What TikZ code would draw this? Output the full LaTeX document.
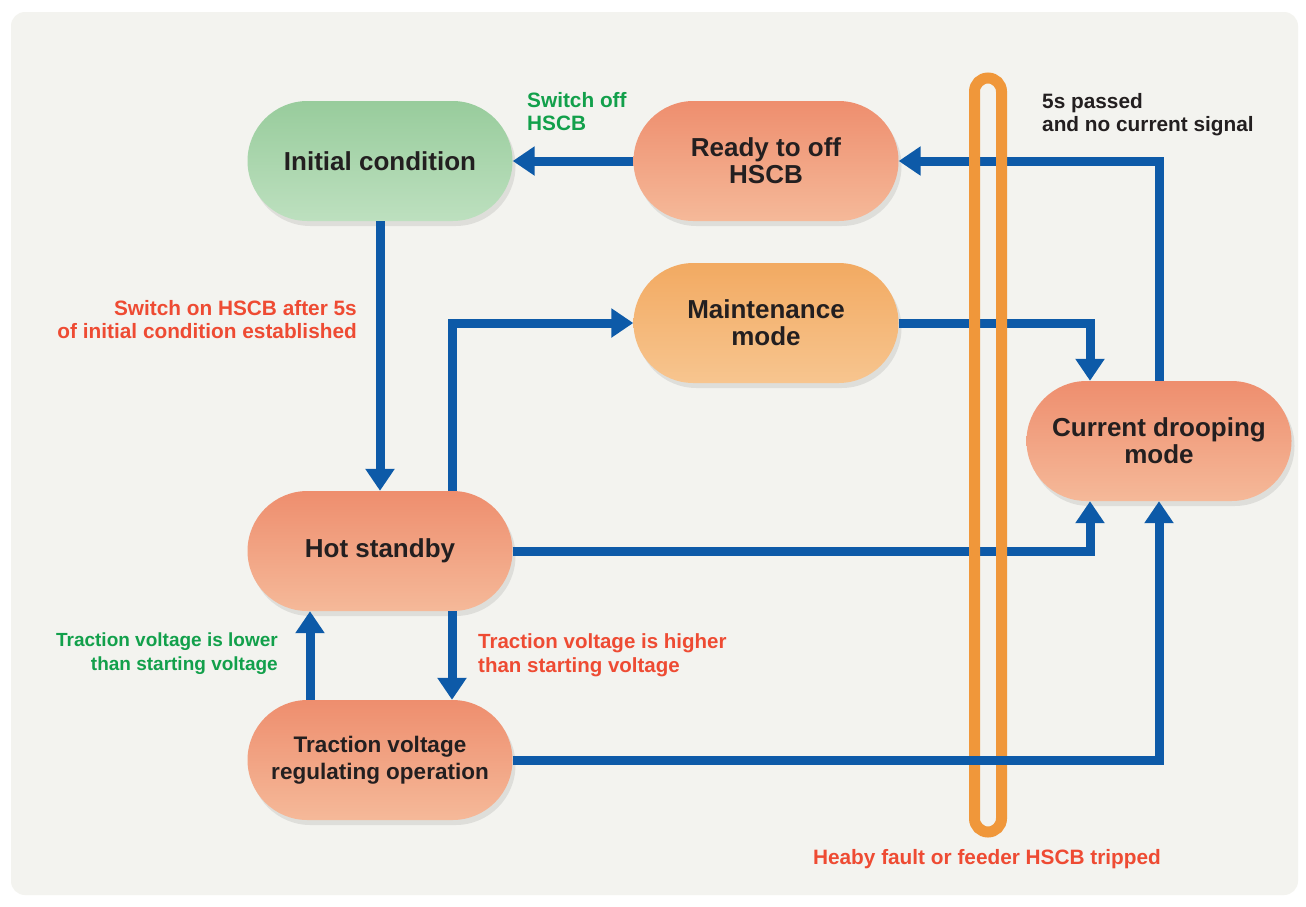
\documentclass[tikz,border=0pt]{standalone}
\usepackage{fontspec}
\setmainfont{Liberation Sans}
\usetikzlibrary{arrows.meta,positioning,shadows}

\definecolor{bggray}{HTML}{F3F3EF}
\definecolor{darktext}{HTML}{231F20}
\definecolor{greentop}{HTML}{98CC9C}
\definecolor{greenbot}{HTML}{BDE0BF}
\definecolor{salmontop}{HTML}{EE8E6E}
\definecolor{salmonbot}{HTML}{F5B999}
\definecolor{orangetop}{HTML}{F2AA62}
\definecolor{orangebot}{HTML}{F7C58F}
\definecolor{flowblue}{HTML}{0D5AA8}
\definecolor{loopor}{HTML}{F0973A}
\definecolor{okgreen}{HTML}{12A04B}
\definecolor{warnred}{HTML}{EE4B33}

\begin{document}
\begin{tikzpicture}[x=1pt, y=-1pt,
  state/.style={rectangle, rounded corners=60pt, minimum width=265pt, minimum height=120pt,
    inner sep=0pt, align=center, text=darktext, font=\bfseries\fontsize{26}{27}\selectfont,
    drop shadow={opacity=0.18, shadow xshift=3pt, shadow yshift=-5pt}},
  salmon/.style={state, top color=salmontop, bottom color=salmonbot},
  flow/.style={draw=flowblue, line width=9pt, -{Triangle[width=28pt,length=22pt]}},
  lbl/.style={inner sep=0pt, font=\bfseries\fontsize{20.8}{23}\selectfont}]
  \useasboundingbox (0,0) rectangle (1306,906);
  \fill[white] (0,0) rectangle (1306,906);
  \fill[bggray, rounded corners=14pt] (11,12) rectangle (1298,895);

  % states
  \node[state, top color=greentop, bottom color=greenbot] (init) at (380,161) {Initial condition};
  \node[salmon] (ready) at (766,161) {Ready to off\\HSCB};
  \node[state, top color=orangetop, bottom color=orangebot] (maint) at (766,323) {Maintenance\\mode};
  \node[salmon] (droop) at (1159,441) {Current drooping\\mode};
  \node[salmon] (hot) at (380,551) {Hot standby};
  \node[salmon, font=\bfseries\fontsize{22.5}{27}\selectfont] (trac) at (380,760) {Traction voltage\\regulating operation};

  % transitions
  \draw[flow] (ready.west) -- (init.east);
  \draw[flow] (droop.north) |- (ready.east);
  \draw[flow] (init.south) -- (hot.north);
  \draw[flow] ([xshift=72pt]hot.north) |- (maint.west);
  \draw[flow] (maint.east) -| ([xshift=-69pt]droop.north);
  \draw[flow] (hot.east) -| ([xshift=-69pt]droop.south);
  \draw[flow] ([xshift=72pt]hot.south) -- ([xshift=72pt]trac.north);
  \draw[flow] ([xshift=-70pt]trac.north) -- ([xshift=-70pt]hot.south);

  % fault loop
  \node[draw=loopor, line width=11pt, rounded corners=13.5pt, minimum width=27pt,
    minimum height=754pt, inner sep=0pt] (trip) at (988,455) {};
  \draw[flow] (trac.east) -| (droop.south);

  % labels
  \node[lbl, text=okgreen, align=left, anchor=north west] (offlbl) at (527,92) {Switch off\\HSCB};
  \node[lbl, text=darktext, align=left, anchor=north west] (passlbl) at (1042,93) {5s passed\\and no current signal};
  \node[lbl, text=warnred, align=right, anchor=north east] (onlbl) at (357,300) {Switch on HSCB after 5s\\of initial condition established};
  \node[lbl, text=okgreen, align=right, anchor=north east, font=\bfseries\fontsize{19}{24}\selectfont] (lowlbl) at (278,633) {Traction voltage is lower\\than starting voltage};
  \node[lbl, text=warnred, align=left, anchor=north west, font=\bfseries\fontsize{20.5}{24}\selectfont] (highlbl) at (478,633) {Traction voltage is higher\\than starting voltage};
  \node[lbl, text=warnred, anchor=base] (faultlbl) at (987,864) {Heaby fault or feeder HSCB tripped};
\end{tikzpicture}
\end{document}
